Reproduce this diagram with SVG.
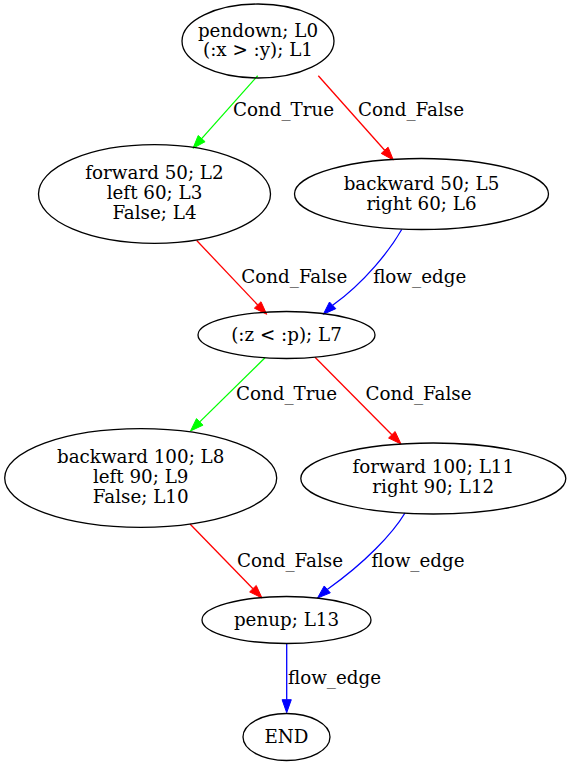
<svg xmlns="http://www.w3.org/2000/svg" width="571" height="766" viewBox="0 0 571 766">
<style>
text{font-family:"DejaVu Serif",serif;font-size:18.3px;text-anchor:middle;fill:#000}
.node ellipse{fill:none;stroke:#000;stroke-width:1.3}
.e path{fill:none;stroke-width:1.3}
.g path{stroke:#00ff00}.g polygon{fill:#00ff00;stroke:#00ff00}
.r path{stroke:#ff0000}.r polygon{fill:#ff0000;stroke:#ff0000}
.b path{stroke:#0000ff}.b polygon{fill:#0000ff;stroke:#0000ff}
</style>
<rect width="571" height="766" fill="#fff"/>
<g id="edges">
<g class="e g"><path d="M257.7,75.7L201.65,138.6"/><polygon points="193,148.3 205.1,141.7 198.2,135.5"/><text x="283.5" y="115.7">Cond_True</text></g>
<g class="e r"><path d="M318.3,75.7L384.66,150.29"/><polygon points="393.3,160 388.1,147.2 381.2,153.4"/><text x="411" y="115.7">Cond_False</text></g>
<g class="e r"><path d="M196.7,240.5L257.68,304.94"/><polygon points="266.7,314.3 260.99,301.75 254.37,308.13"/><text x="294.3" y="283.3">Cond_False</text></g>
<g class="e b"><path d="M401.7,229.5C390,250 365,282 332.66,305.33"/><polygon points="323.3,314.3 335.83,308.64 329.49,302.02"/><text x="419.7" y="283.3">flow_edge</text></g>
<g class="e g"><path d="M265,357.8L199.75,421.87"/><polygon points="190.5,431 202.98,425.14 196.52,418.6"/><text x="286.5" y="399.5">Cond_True</text></g>
<g class="e r"><path d="M315,357.3L391.84,434.77"/><polygon points="401,444 395.11,431.53 388.57,438.01"/><text x="418.5" y="399.5">Cond_False</text></g>
<g class="e r"><path d="M190,524L252.94,588.68"/><polygon points="262,598 256.24,585.47 249.64,591.89"/><text x="290" y="567">Cond_False</text></g>
<g class="e b"><path d="M405,513C393,533 365,563 327.25,589.42"/><polygon points="317.5,598 330.29,592.87 324.21,585.97"/><text x="418" y="567">flow_edge</text></g>
<g class="e b"><path d="M286.7,643.5L286.7,699.7"/><polygon points="286.7,712.7 291.3,699.7 282.1,699.7"/><text x="334.5" y="683.5">flow_edge</text></g>
</g>
<g id="n0" class="node"><ellipse cx="258" cy="41" rx="76" ry="37"/><text x="258" y="36.7">pendown; L0</text><text x="258" y="56.3">(:x &gt; :y); L1</text></g>
<g id="n2" class="node"><ellipse cx="154.5" cy="194" rx="116" ry="49.3"/><text x="154.5" y="179.3">forward 50; L2</text><text x="154.5" y="199.3">left 60; L3</text><text x="154.5" y="219.3">False; L4</text></g>
<g id="n5" class="node"><ellipse cx="421.5" cy="194" rx="127" ry="35.5"/><text x="421.5" y="189.7">backward 50; L5</text><text x="421.5" y="209.7">right 60; L6</text></g>
<g id="n7" class="node"><ellipse cx="286.5" cy="335" rx="88.5" ry="23.5"/><text x="286.5" y="340.5">(:z &lt; :p); L7</text></g>
<g id="n8" class="node"><ellipse cx="140.7" cy="478" rx="136" ry="49.3"/><text x="140.7" y="463.3">backward 100; L8</text><text x="140.7" y="483.3">left 90; L9</text><text x="140.7" y="503.3">False; L10</text></g>
<g id="n11" class="node"><ellipse cx="433.3" cy="478.5" rx="132.5" ry="35.5"/><text x="433.3" y="473.3">forward 100; L11</text><text x="433.3" y="493.3">right 90; L12</text></g>
<g id="n13" class="node"><ellipse cx="286.5" cy="620" rx="84.5" ry="23.5"/><text x="286.5" y="625.5">penup; L13</text></g>
<g id="end" class="node"><ellipse cx="286.5" cy="737" rx="43.5" ry="23.5"/><text x="286.5" y="742.5">END</text></g>
</svg>
